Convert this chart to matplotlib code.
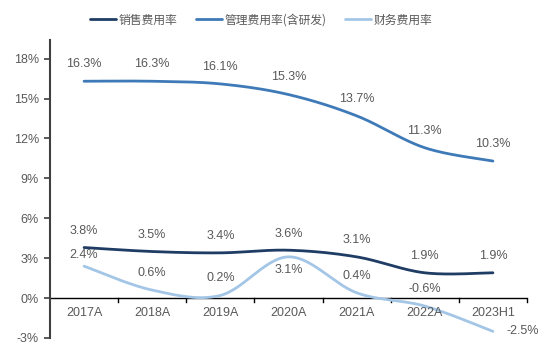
import numpy as np
import matplotlib
matplotlib.use("Agg")
import matplotlib.pyplot as plt
from matplotlib.ticker import FuncFormatter

plt.rcParams['font.family'] = ['Liberation Sans', 'Noto Sans CJK SC', 'DejaVu Sans']

categories = ["2017A", "2018A", "2019A", "2020A", "2021A", "2022A", "2023H1"]
sales = [3.8, 3.5, 3.4, 3.6, 3.1, 1.9, 1.9]
mgmt = [16.3, 16.3, 16.1, 15.3, 13.7, 11.3, 10.3]
fin = [2.4, 0.6, 0.2, 3.1, 0.4, -0.6, -2.5]
names = ["销售费用率", "管理费用率(含研发)", "财务费用率"]
colors = ["#1F3D64", "#3F7AB8", "#A3C6E6"]
yticks = [-3, 0, 3, 6, 9, 12, 15, 18]


def smooth(y, n=30):
    y = np.asarray(y, float)
    x = np.arange(len(y), dtype=float)
    P = np.column_stack([x, y])
    Pe = np.vstack([P[0], P, P[-1]])
    out = []
    t = np.linspace(0, 1, n)[:, None]
    for i in range(len(P) - 1):
        p0, p3 = Pe[i + 1], Pe[i + 2]
        c1 = p0 + (Pe[i + 2] - Pe[i]) / 6
        c2 = p3 - (Pe[i + 3] - Pe[i + 1]) / 6
        seg = ((1 - t) ** 3) * p0 + 3 * ((1 - t) ** 2) * t * c1 + 3 * (1 - t) * t ** 2 * c2 + t ** 3 * p3
        out.append(seg if i == 0 else seg[1:])
    s = np.vstack(out)
    return s[:, 0], s[:, 1]


fig = plt.figure(figsize=(5.54, 3.62), dpi=100)
ax = fig.add_axes([50 / 554, 1 - 338 / 362, (527 - 50) / 554, (338 - 40) / 362])

txt = "#595959"
fs = 9
series = [sales, mgmt, fin]
handles = []
for vals, c, nm in zip(series, colors, names):
    sx, sy = smooth(vals)
    h, = ax.plot(sx, sy, color=c, lw=2.0, solid_capstyle='round', label=nm, zorder=3)
    handles.append(h)

x = np.arange(len(categories))
for i, v in enumerate(mgmt):
    ax.annotate(f"{v:.1f}%", (x[i], v), xytext=(0, 8), textcoords='offset points',
                ha='center', va='bottom', fontsize=fs, color=txt)
for i, v in enumerate(sales):
    ax.annotate(f"{v:.1f}%", (x[i], v), xytext=(0, 7.5), textcoords='offset points',
                ha='center', va='bottom', fontsize=fs, color=txt)
fin_offsets = [(0, 4), (0, 8), (0, 8), (0, -5), (0, 8), (0, 8), (10, 0)]
for i, v in enumerate(fin):
    dx, dy = fin_offsets[i]
    if dx > 0:
        ha, va = 'left', 'center'
    elif dy < 0:
        ha, va = 'center', 'top'
    else:
        ha, va = 'center', 'bottom'
    ax.annotate(f"{v:.1f}%", (x[i], v), xytext=(dx, dy), textcoords='offset points',
                ha=ha, va=va, fontsize=fs, color=txt)

ax.set_xlim(-0.5, len(categories) - 0.5)
ax.set_ylim(-3, 19.4)
ax.set_yticks(yticks)
ax.yaxis.set_major_formatter(FuncFormatter(lambda v, p: f"{v:.0f}%"))
ax.tick_params(axis='y', labelsize=fs, labelcolor=txt, length=4, width=1.2, color="#404040", pad=4)

for s in ['top', 'right', 'bottom']:
    ax.spines[s].set_visible(False)
ax.spines['left'].set_color("#404040")
ax.spines['left'].set_linewidth(1.5)

ax.axhline(0, color="#000000", lw=1.0, zorder=2)
ax.set_xticks([])
for b in np.arange(0.5, len(categories), 1.0):
    ax.plot([b, b], [0, -0.3], color="#000000", lw=1.0, clip_on=False, zorder=2)
for i, c in enumerate(categories):
    ax.text(x[i], -0.7, c, ha='center', va='top', fontsize=fs, color=txt)

leg = fig.legend(handles=handles, loc='center', bbox_to_anchor=(261 / 554, 1 - 20 / 362),
                 ncol=3, frameon=False, handlelength=2.2, handletextpad=0.2,
                 columnspacing=1.6, labelcolor=txt,
                 prop={'family': ['Noto Sans CJK SC', 'DejaVu Sans'], 'size': 8.5})

fig.savefig("out.png", dpi=100)
